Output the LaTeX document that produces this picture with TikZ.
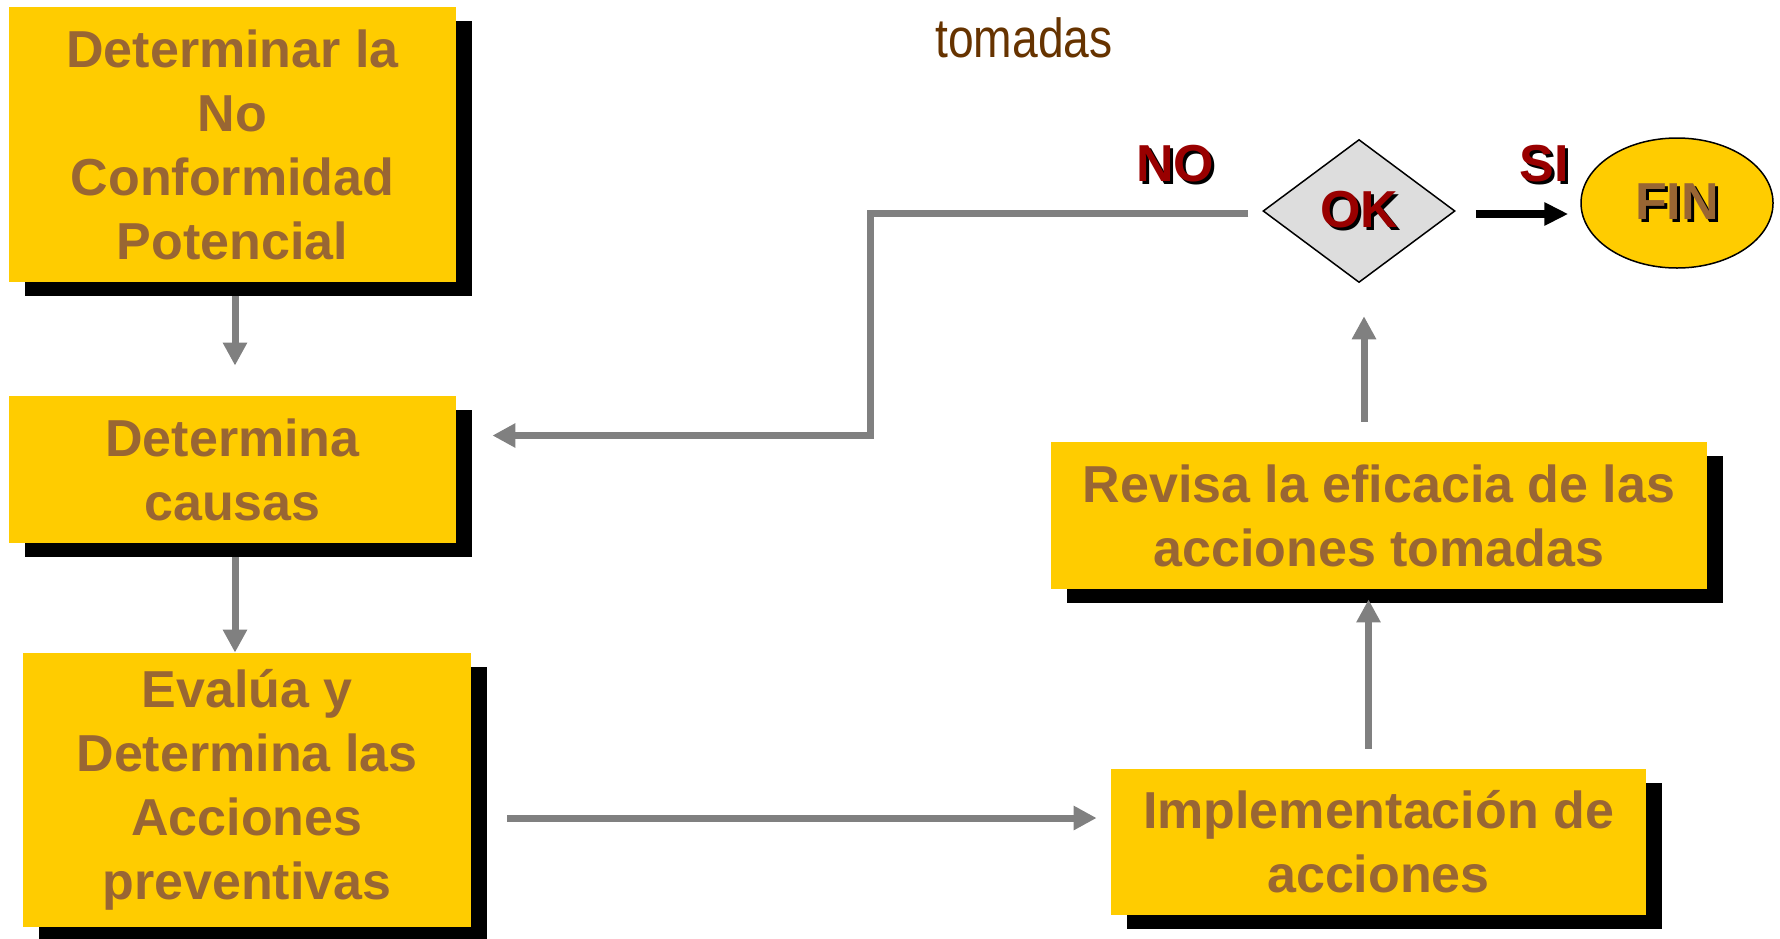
\documentclass[tikz,border=0pt]{standalone}
\usepackage{fontspec}
\setmainfont{Liberation Sans}
\newfontfamily\angosta[FakeStretch=0.84]{Liberation Sans}
\usepackage{tikz}
\usetikzlibrary{shapes.geometric, arrows.meta, shadows, calc}

\definecolor{amarillo}{RGB}{255,204,0}
\definecolor{cafe}{RGB}{153,102,51}
\definecolor{cafeoscuro}{RGB}{102,51,0}
\definecolor{rojo}{RGB}{153,0,0}
\definecolor{gris}{RGB}{128,128,128}
\definecolor{grisclaro}{RGB}{221,221,221}

% texto con sombra negra
\newcommand{\sombra}[2]{\makebox[0pt][l]{\hspace{1.5pt}\raisebox{-1.5pt}{\color{black}#2}}{\color{#1}#2}}

\begin{document}
\begin{tikzpicture}[x=0.5pt, y=-0.5pt,
    caja/.style={rectangle, fill=amarillo, text=cafe, align=center, inner sep=0pt,
        font=\fontsize{26pt}{32pt}\selectfont\bfseries,
        drop shadow={shadow xshift=8pt, shadow yshift=-7pt, fill=black, opacity=1}},
    flecha/.style={draw=gris, line width=3.5pt, -{Triangle[length=11.5pt, width=11.5pt]}},
    etiqueta/.style={font=\fontsize{26pt}{30pt}\selectfont\bfseries, inner sep=0pt}]

    % Marco (tamaño de la imagen)
    \useasboundingbox (0,0) rectangle (1780,938);

    % Cajas del proceso
    \node[caja, minimum width=223.5pt, minimum height=137.5pt] (det) at (232.5,144.5)
        {Determinar la\\No\\Conformidad\\Potencial};
    \node[caja, minimum width=223.5pt, minimum height=73.5pt] (causas) at (232.5,469.5)
        {Determina\\causas};
    \node[caja, minimum width=224pt, minimum height=137pt] (evalua) at (247,790)
        {Evalúa y\\Determina las\\Acciones\\preventivas};
    \node[caja, minimum width=267.5pt, minimum height=73pt] (impl) at (1378.5,842)
        {Implementación de\\acciones};
    \node[caja, minimum width=328pt, minimum height=73.5pt] (revisa) at (1379,515.5)
        {Revisa la eficacia de las\\acciones tomadas};

    % Decision y fin
    \node[diamond, draw=black, line width=0.75pt, fill=grisclaro, inner sep=0pt,
        minimum width=96pt, minimum height=71.5pt, etiqueta] (ok) at (1359,211) {\sombra{rojo}{OK}};
    \node[ellipse, draw=black, line width=0.75pt, fill=amarillo, inner sep=0pt,
        minimum width=96pt, minimum height=65pt, etiqueta] (fin) at (1677,203) {\sombra{cafe}{FIN}};

    % Etiquetas NO / SI
    \node[etiqueta] (no) at (1175,165) {\sombra{rojo}{NO}};
    \node[etiqueta] (si) at (1544,165) {\sombra{rojo}{SI}};

    % Texto cortado arriba
    \node[font=\angosta\fontsize{27.5pt}{30pt}\selectfont, text=cafeoscuro, anchor=base, inner sep=0pt]
        (tomadas) at (1024,57) {tomadas};

    % Flechas
    \draw[flecha, shorten <=7pt, shorten >=15pt] ([xshift=1.25pt]det.south) -- ([xshift=1.25pt]causas.north);
    \draw[flecha, shorten <=7pt] ([xshift=1.25pt]causas.south) -- ([xshift=1.25pt]causas.south |- evalua.north);
    \draw[flecha, shorten <=18pt, shorten >=7pt] ([yshift=-14pt]evalua.east) -- ([yshift=-14pt]evalua.east -| impl.west);
    \draw[flecha, shorten <=10pt, shorten >=5pt] ([xshift=-5pt]impl.north) -- ([xshift=-5pt]impl.north |- revisa.south);
    \draw[flecha, shorten <=10pt, shorten >=16.5pt] ([xshift=2.5pt]ok.south |- revisa.north) -- ([xshift=2.5pt]ok.south);
    \draw[flecha, shorten <=7pt, shorten >=18pt] ([yshift=-1pt]ok.west) -- ++(-392,0) |- ([yshift=17pt]causas.east);
    \draw[line width=4pt, -{Triangle[length=12pt, width=11pt]}, shorten <=10pt, shorten >=6pt]
        ([yshift=-1.5pt]ok.east) -- ([yshift=-1.5pt]ok.east -| fin.west);
\end{tikzpicture}
\end{document}
